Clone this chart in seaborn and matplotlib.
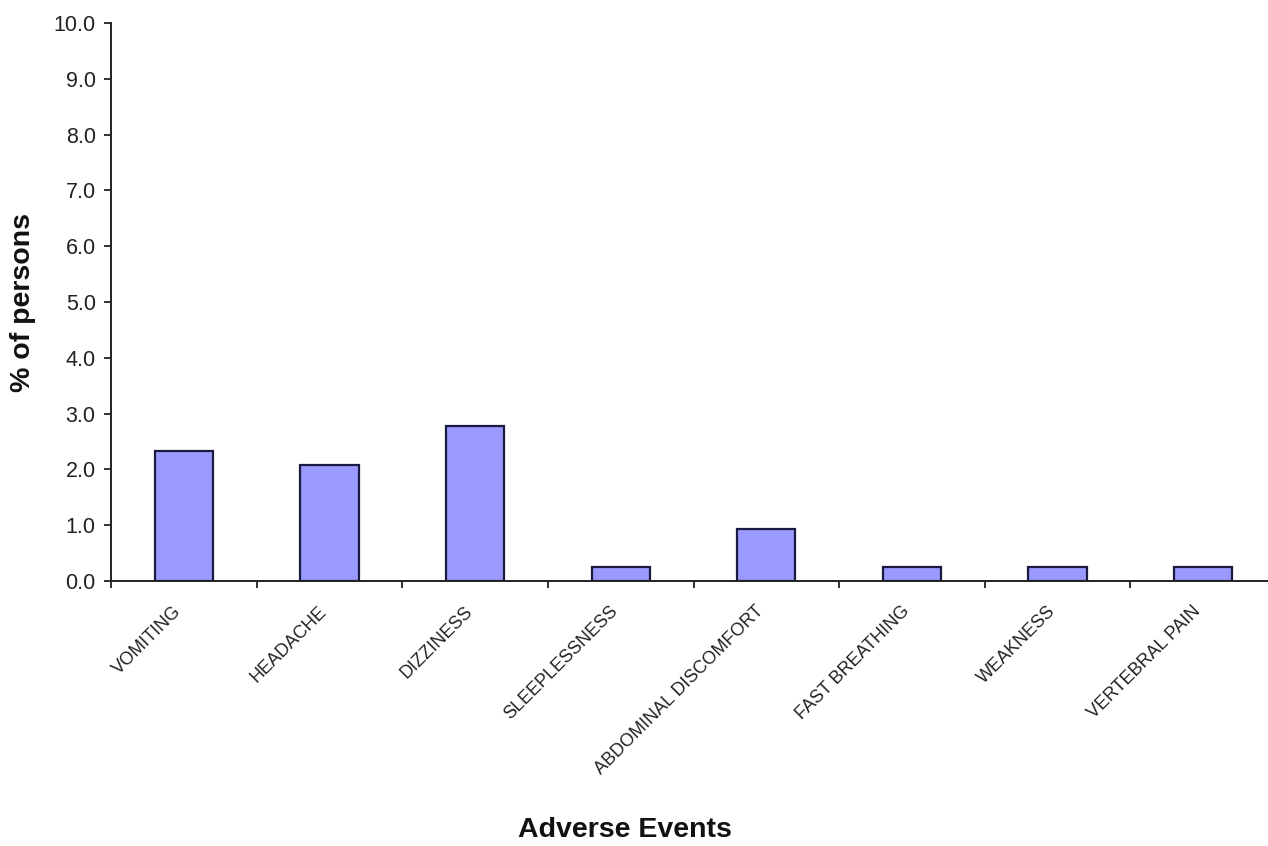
import matplotlib
matplotlib.use("Agg")
import matplotlib.pyplot as plt
import matplotlib.transforms as mtransforms
import seaborn as sns
import pandas as pd
from matplotlib.ticker import FormatStrFormatter, FixedLocator

categories = ["VOMITING", "HEADACHE", "DIZZINESS", "SLEEPLESSNESS",
              "ABDOMINAL DISCOMFORT", "FAST BREATHING", "WEAKNESS", "VERTEBRAL PAIN"]
values = [2.33, 2.08, 2.78, 0.25, 0.93, 0.25, 0.25, 0.25]

df = pd.DataFrame({"event": categories, "pct": values})

sns.set_style("white")
plt.rcParams['font.family'] = ['Liberation Sans', 'DejaVu Sans']

fig = plt.figure(figsize=(12.68, 8.46), dpi=100)
ax = fig.add_axes([111/1268, 265/846, 1165/1268, 558/846])

sns.barplot(data=df, x="event", y="pct", ax=ax, color="#9999FF",
            width=0.4, edgecolor="#1a1a40", linewidth=1.6, saturation=1)

ax.set_xlim(-0.5, len(categories) - 0.5)
ax.set_ylim(0, 10)
ax.set_yticks([i for i in range(11)])
ax.yaxis.set_major_formatter(FormatStrFormatter('%.1f'))

for s in ["top", "right"]:
    ax.spines[s].set_visible(False)
for s in ["left", "bottom"]:
    ax.spines[s].set_color("#222222")
    ax.spines[s].set_linewidth(1.4)

# category boundary ticks
ax.xaxis.set_major_locator(FixedLocator([i - 0.5 for i in range(len(categories) + 1)]))
ax.xaxis.set_minor_locator(FixedLocator(list(range(len(categories)))))
ax.set_xticklabels([])
ax.set_xticklabels(categories, minor=True, rotation=45, ha="right",
                   va="center", rotation_mode="anchor", fontsize=13, color="#222222")
ax.tick_params(axis="x", which="major", direction="out", length=5, width=1.3,
               color="#222222", bottom=True)
ax.tick_params(axis="x", which="minor", length=0, pad=20)
ax.tick_params(axis="y", direction="out", length=5, width=1.3, color="#222222",
               left=True, labelsize=15.5, labelcolor="#222222", pad=6)

offset = mtransforms.ScaledTranslation(-5/100, 0, fig.dpi_scale_trans)
for lab in ax.get_xticklabels(minor=True):
    lab.set_transform(lab.get_transform() + offset)

ax.set_xlabel("")
ax.set_ylabel("% of persons", fontsize=20.5, fontweight="bold", color="#111111")
ax.yaxis.set_label_coords((36 - 111) / 1165, 0.5)
fig.text(625/1268, 1 - 830/846, "Adverse Events", ha="center", va="center",
         fontsize=20.5, fontweight="bold", color="#111111")

fig.savefig("out.png", dpi=100)
